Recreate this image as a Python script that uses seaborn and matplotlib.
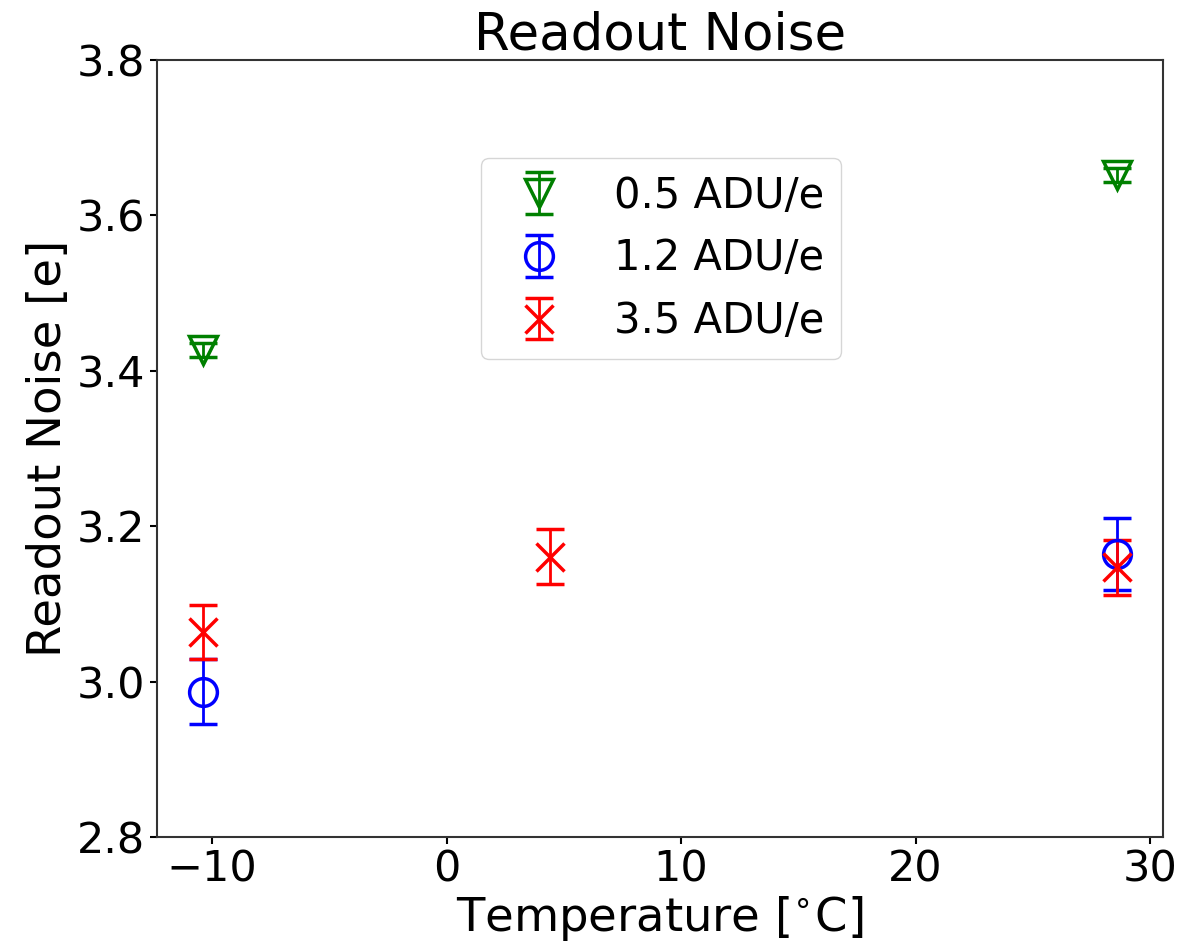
import matplotlib
matplotlib.use("Agg")
import matplotlib.pyplot as plt
import seaborn as sns

# temperatures [C]
temp_05 = [-10.4, 28.6]
temp_12 = [-10.4, 28.6]
temp_35 = [-10.4, 4.4, 28.6]

# readout noise [e] and errors
noise_05 = [3.427, 3.652]
err_05 = [0.009, 0.009]
noise_12 = [2.987, 3.164]
err_12 = [0.042, 0.046]
noise_35 = [3.064, 3.161, 3.147]
err_35 = [0.035, 0.035, 0.035]

labels = ["0.5 ADU/e", "1.2 ADU/e", "3.5 ADU/e"]

sns.set_theme(style="ticks", rc={
    "axes.edgecolor": "0.2",
    "axes.linewidth": 1.5,
    "xtick.major.size": 5,
    "ytick.major.size": 5,
    "xtick.major.width": 1.5,
    "ytick.major.width": 1.5,
    "xtick.color": "black",
    "ytick.color": "black",
    "text.color": "black",
    "axes.labelcolor": "black",
})
plt.rcParams["font.family"] = ["DejaVu Sans"]

fig, ax = plt.subplots(figsize=(11.79, 9.47), dpi=100)
fig.subplots_adjust(left=157/1179, right=1163/1179, top=1-60/947, bottom=1-837/947)

common = dict(linestyle="none", markersize=20, mew=2.5, elinewidth=2, capsize=10, capthick=2)
ax.errorbar(temp_05, noise_05, yerr=err_05, fmt="v", color="green", mfc="none",
            label=labels[0], **common)
ax.errorbar(temp_12, noise_12, yerr=err_12, fmt="o", color="blue", mfc="none",
            label=labels[1], **common)
ax.errorbar(temp_35, noise_35, yerr=err_35, fmt="x", color="red",
            label=labels[2], **common)

ax.set_ylim(2.8, 3.8)
ax.set_yticks([2.8, 3.0, 3.2, 3.4, 3.6, 3.8])
ax.set_xticks([-10, 0, 10, 20, 30])
ax.tick_params(labelsize=31)

ax.set_title("Readout Noise", fontsize=37, color="black")
ax.set_xlabel(r"Temperature [$^{\circ}$C]", fontsize=33.5, labelpad=2)
ax.set_ylabel("Readout Noise [e]", fontsize=33.5)

ax.legend(loc="upper left", bbox_to_anchor=(0.322, 0.874), borderaxespad=0,
          fontsize=30, frameon=True, labelcolor="black")

plt.savefig("out.png", dpi=100)
